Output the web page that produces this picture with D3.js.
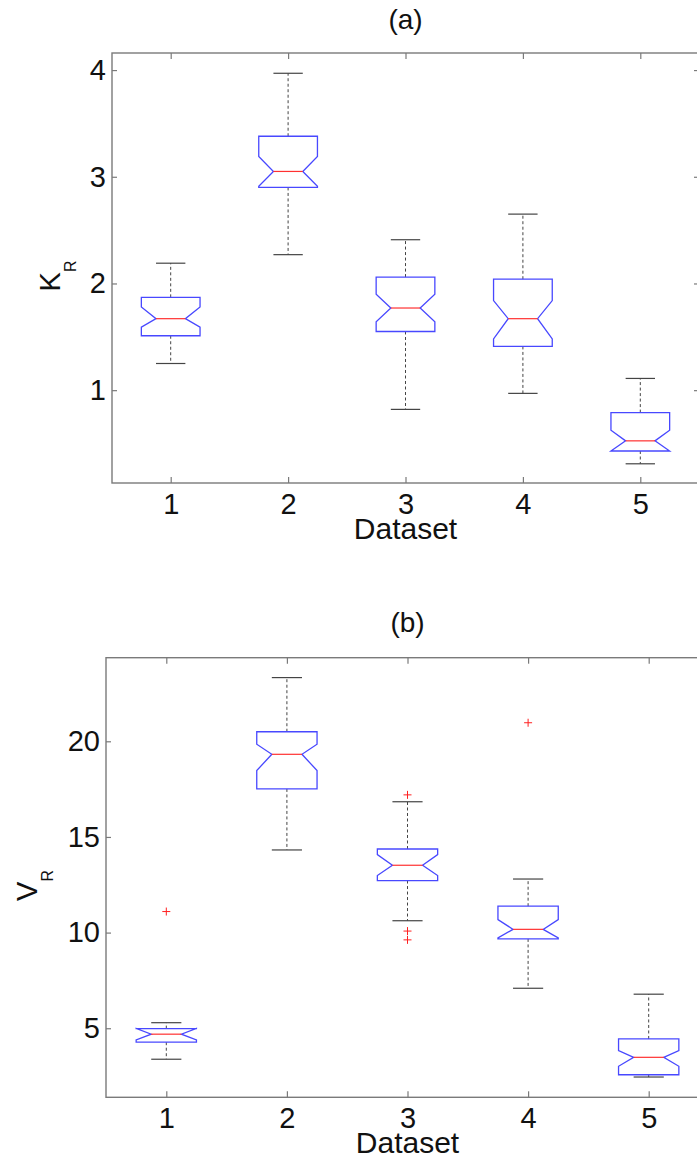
<!DOCTYPE html>
<html>
<head>
<meta charset="utf-8">
<script src="https://cdn.jsdelivr.net/npm/d3@7"></script>
<style>
  body { margin: 0; background: #fff; }
  svg { display: block; }
  text { font-family: "Liberation Sans", Arial, Helvetica, sans-serif; fill: #111; }
</style>
</head>
<body>
<div id="chart"></div>
<script>
'use strict';

// datasets on the x axis
var datasets = [1, 2, 3, 4, 5];

// (a) K_R boxplot values
var kWhiskerLo = [1.25, 2.27, 0.82, 0.97, 0.31];
var kQ1        = [1.51, 2.90, 1.55, 1.41, 0.43];
var kNotchLo   = [1.59, 2.91, 1.64, 1.48, 0.43];
var kMedian    = [1.67, 3.05, 1.77, 1.67, 0.525];
var kNotchHi   = [1.78, 3.19, 1.90, 1.84, 0.625];
var kQ3        = [1.87, 3.38, 2.06, 2.04, 0.79];
var kWhiskerHi = [2.19, 3.97, 2.41, 2.65, 1.11];
var kOutliers  = [];
var kTicks     = [1, 2, 3, 4];

// (b) V_R boxplot values
var vWhiskerLo = [3.38, 14.32, 10.62, 7.09, 2.45];
var vQ1        = [4.27, 17.51, 12.72, 9.67, 2.57];
var vNotchLo   = [4.39, 18.47, 12.98, 9.72, 3.01];
var vMedian    = [4.69, 19.32, 13.52, 10.17, 3.48];
var vNotchHi   = [4.99, 19.85, 14.08, 10.68, 3.83];
var vQ3        = [4.98, 20.50, 14.37, 11.38, 4.44];
var vWhiskerHi = [5.29, 23.33, 16.84, 12.80, 6.78];
var vOutliers  = [[1, 11.1], [3, 17.2], [3, 10.08], [3, 9.62], [4, 20.97]];
var vTicks     = [5, 10, 15, 20];

var W = 697, H = 1158;
var svg = d3.select('#chart').append('svg')
    .attr('width', W)
    .attr('height', H);

function drawPanel(p) {
    var g = svg.append('g');
    var x = d3.scaleLinear().domain([0.5, 5.5]).range([p.left, p.right]);
    var y = d3.scaleLinear().domain(p.yDomain).range([p.bottom, p.top]);
    var hw = 0.25; // half box width, in data units

    var boxes = datasets.map(function(d, i) {
        return {
            c: d,
            lo: p.whiskerLo[i], q1: p.q1[i], nlo: p.notchLo[i], med: p.median[i],
            nhi: p.notchHi[i], q3: p.q3[i], hi: p.whiskerHi[i]
        };
    });

    // frame
    g.append('rect')
        .attr('x', p.left).attr('y', p.top)
        .attr('width', p.right - p.left).attr('height', p.bottom - p.top)
        .attr('fill', 'none').attr('stroke', '#7a7a7a').attr('stroke-width', 1.4);

    // axes, inward ticks
    var axisStyle = function(sel) {
        sel.select('.domain').remove();
        sel.selectAll('.tick line').attr('stroke', '#7a7a7a').attr('stroke-width', 1.2);
        sel.selectAll('.tick text')
            .attr('font-size', 29)
            .attr('font-family', '"Liberation Sans", Arial, sans-serif')
            .attr('fill', '#111');
    };
    g.append('g')
        .attr('transform', 'translate(0,' + p.bottom + ')')
        .call(d3.axisBottom(x).tickValues(datasets).tickFormat(d3.format('d'))
            .tickSizeInner(-6).tickSizeOuter(0).tickPadding(10))
        .call(axisStyle);
    g.append('g')
        .attr('transform', 'translate(0,' + p.top + ')')
        .call(d3.axisTop(x).tickValues(datasets).tickFormat('')
            .tickSizeInner(-6).tickSizeOuter(0))
        .call(axisStyle);
    g.append('g')
        .attr('transform', 'translate(' + p.left + ',0)')
        .call(d3.axisLeft(y).tickValues(p.ticks).tickFormat(d3.format('d'))
            .tickSizeInner(-5).tickSizeOuter(0).tickPadding(6))
        .call(axisStyle);
    g.append('g')
        .attr('transform', 'translate(' + p.right + ',0)')
        .call(d3.axisRight(y).tickValues(p.ticks).tickFormat('')
            .tickSizeInner(-5).tickSizeOuter(0))
        .call(axisStyle);

    // whiskers
    var bx = g.selectAll('g.box').data(boxes).enter().append('g').attr('class', 'box');
    bx.append('line')
        .attr('x1', function(d) { return x(d.c); }).attr('x2', function(d) { return x(d.c); })
        .attr('y1', function(d) { return y(d.q3); }).attr('y2', function(d) { return y(d.hi); })
        .attr('stroke', '#444').attr('stroke-dasharray', '3,2.5');
    bx.append('line')
        .attr('x1', function(d) { return x(d.c); }).attr('x2', function(d) { return x(d.c); })
        .attr('y1', function(d) { return y(d.q1); }).attr('y2', function(d) { return y(d.lo); })
        .attr('stroke', '#444').attr('stroke-dasharray', '3,2.5');
    ['hi', 'lo'].forEach(function(k) {
        bx.append('line')
            .attr('x1', function(d) { return x(d.c - hw / 2); })
            .attr('x2', function(d) { return x(d.c + hw / 2); })
            .attr('y1', function(d) { return y(d[k]); })
            .attr('y2', function(d) { return y(d[k]); })
            .attr('stroke', '#444').attr('stroke-width', 1.2);
    });

    // notched box
    bx.append('path')
        .attr('d', function(d) {
            var pts = [
                [d.c - hw, d.q1], [d.c - hw, d.nlo], [d.c - hw / 2, d.med],
                [d.c - hw, d.nhi], [d.c - hw, d.q3], [d.c + hw, d.q3],
                [d.c + hw, d.nhi], [d.c + hw / 2, d.med], [d.c + hw, d.nlo],
                [d.c + hw, d.q1]
            ];
            return d3.line().x(function(q) { return x(q[0]); }).y(function(q) { return y(q[1]); })(pts) + 'Z';
        })
        .attr('fill', 'none').attr('stroke', '#4848ff').attr('stroke-width', 1.3);

    // median
    bx.append('line')
        .attr('x1', function(d) { return x(d.c - hw / 2); })
        .attr('x2', function(d) { return x(d.c + hw / 2); })
        .attr('y1', function(d) { return y(d.med); })
        .attr('y2', function(d) { return y(d.med); })
        .attr('stroke', '#ff3030').attr('stroke-width', 1.2);

    // outliers as red +
    var ol = g.selectAll('g.out').data(p.outliers).enter().append('g')
        .attr('transform', function(d) { return 'translate(' + x(d[0]) + ',' + y(d[1]) + ')'; });
    ol.append('line').attr('x1', -4).attr('x2', 4).attr('stroke', '#ff2020');
    ol.append('line').attr('y1', -4).attr('y2', 4).attr('stroke', '#ff2020');

    // titles and labels
    g.append('text')
        .attr('x', (p.left + p.right) / 2).attr('y', p.titleY)
        .attr('text-anchor', 'middle').attr('font-size', 28)
        .text(p.title);
    g.append('text')
        .attr('x', (p.left + p.right) / 2).attr('y', p.bottom + 56)
        .attr('text-anchor', 'middle').attr('font-size', 30)
        .text('Dataset');
    var yl = g.append('text')
        .attr('transform', 'translate(' + p.labelX + ',' + ((p.top + p.bottom) / 2 + 8) + ') rotate(-90)')
        .attr('text-anchor', 'middle').attr('font-size', 29);
    yl.append('tspan').text(p.yLabel);
    yl.append('tspan').attr('font-size', 16).attr('dy', 16).text('R');
}

drawPanel({
    left: 112, right: 699, top: 53, bottom: 483,
    yDomain: [0.13, 4.16], ticks: kTicks,
    whiskerLo: kWhiskerLo, q1: kQ1, notchLo: kNotchLo, median: kMedian,
    notchHi: kNotchHi, q3: kQ3, whiskerHi: kWhiskerHi, outliers: kOutliers,
    title: '(a)', titleY: 29, yLabel: 'K', labelX: 60
});

drawPanel({
    left: 106, right: 709, top: 657.7, bottom: 1097.3,
    yDomain: [1.39, 24.37], ticks: vTicks,
    whiskerLo: vWhiskerLo, q1: vQ1, notchLo: vNotchLo, median: vMedian,
    notchHi: vNotchHi, q3: vQ3, whiskerHi: vWhiskerHi, outliers: vOutliers,
    title: '(b)', titleY: 632, yLabel: 'V', labelX: 37
});
</script>
</body>
</html>
